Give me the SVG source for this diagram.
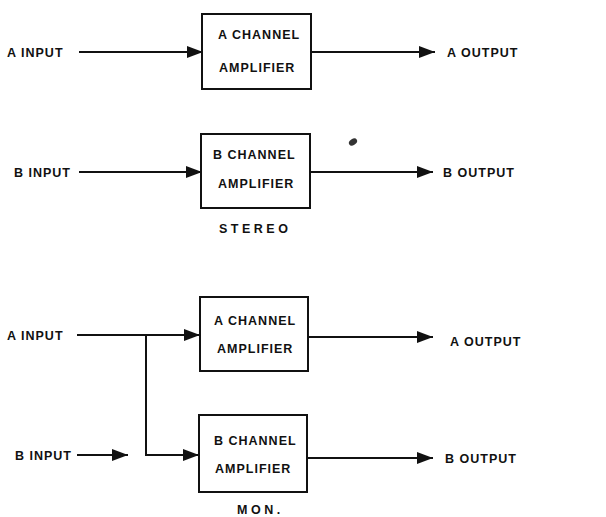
<svg xmlns="http://www.w3.org/2000/svg" width="606" height="517" viewBox="0 0 606 517">
<style>
text{font-family:"Liberation Sans",Arial,sans-serif;font-weight:bold;font-size:12.5px;fill:#111;letter-spacing:1px}
.box{fill:#fff;stroke:#111;stroke-width:2}
.ln{fill:none;stroke:#111;stroke-width:2}
.cap{letter-spacing:3.5px}
</style>
<defs>
<marker id="ah" markerUnits="userSpaceOnUse" markerWidth="17" markerHeight="13" refX="16" refY="6.5" orient="auto">
<path d="M0,0.5 L16,6.5 L0,12.5 Z" fill="#111"/>
</marker>
</defs>
<rect width="606" height="517" fill="#fff"/>
<g id="connectors">
<line class="ln" x1="79" y1="52" x2="203" y2="52" marker-end="url(#ah)"/>
<line class="ln" x1="311" y1="52" x2="435" y2="52" marker-end="url(#ah)"/>
<line class="ln" x1="79" y1="172" x2="202" y2="172" marker-end="url(#ah)"/>
<line class="ln" x1="310" y1="172" x2="433" y2="172" marker-end="url(#ah)"/>
<line class="ln" x1="77" y1="335" x2="200" y2="335" marker-end="url(#ah)"/>
<polyline class="ln" points="146,335 146,455 199,455" marker-end="url(#ah)"/>
<line class="ln" x1="77" y1="455" x2="128" y2="455" marker-end="url(#ah)"/>
<line class="ln" x1="308" y1="337" x2="433" y2="337" marker-end="url(#ah)"/>
<line class="ln" x1="307" y1="458" x2="433" y2="458" marker-end="url(#ah)"/>
</g>
<g id="stereo-a-amp">
<rect class="box" x="202" y="14" width="109" height="75"/>
<text x="218" y="39">A CHANNEL</text>
<text x="219" y="72">AMPLIFIER</text>
</g>
<g id="stereo-b-amp">
<rect class="box" x="201" y="134" width="109" height="74"/>
<text x="213" y="159">B CHANNEL</text>
<text x="218" y="188">AMPLIFIER</text>
</g>
<g id="mono-a-amp">
<rect class="box" x="200" y="297" width="108" height="74"/>
<text x="214" y="325">A CHANNEL</text>
<text x="217" y="353">AMPLIFIER</text>
</g>
<g id="mono-b-amp">
<rect class="box" x="199" y="415" width="108" height="77"/>
<text x="214" y="445">B CHANNEL</text>
<text x="215" y="473">AMPLIFIER</text>
</g>
<g id="labels">
<text x="7" y="57">A INPUT</text>
<text x="447" y="57">A OUTPUT</text>
<text x="14" y="177">B INPUT</text>
<text x="443" y="177">B OUTPUT</text>
<text class="cap" x="219" y="233">STEREO</text>
<text x="7" y="340">A INPUT</text>
<text x="450" y="346">A OUTPUT</text>
<text x="15" y="460">B INPUT</text>
<text x="445" y="463">B OUTPUT</text>
<text class="cap" x="237" y="514">MON.</text>
</g>
<ellipse cx="353" cy="142" rx="4.5" ry="3" transform="rotate(-35 353 142)" fill="#333"/>
</svg>
